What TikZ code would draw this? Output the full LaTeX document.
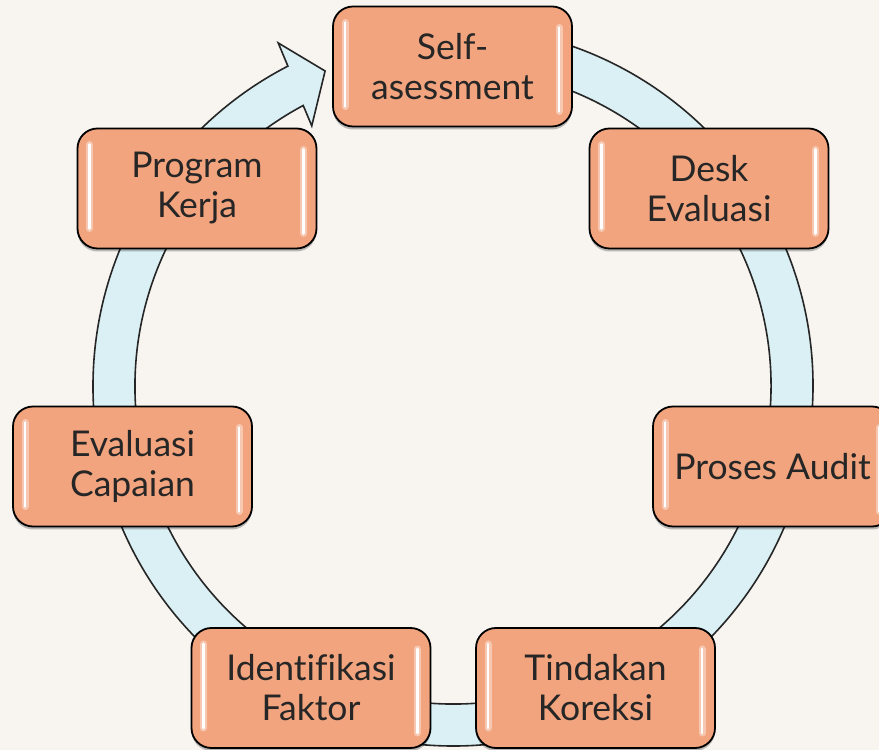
\documentclass[tikz,border=0pt]{standalone}
\usepackage{fontspec}
\setmainfont{Lato}[Ligatures=NoCommon]
\usetikzlibrary{calc,shadows}
\definecolor{bgc}{HTML}{F8F5F1}
\definecolor{ringc}{HTML}{DAF0F4}
\definecolor{boxc}{HTML}{F2A47E}
\definecolor{txtc}{HTML}{262626}
\begin{document}
\begin{tikzpicture}[x=1pt,y=1pt,
  stagebox/.style={draw=black, line width=1.8pt, fill=boxc, rounded corners=20pt,
    minimum width=239pt, minimum height=120pt, inner sep=0pt, outer sep=0pt,
    align=center, text=txtc, font=\fontsize{35.5}{40}\selectfont,
    drop shadow={shadow xshift=0pt, shadow yshift=-3pt, opacity=0.25, fill=black}},
  ringstyle/.style={draw=black!85, line width=1.6pt, fill=ringc, line join=miter},
  glow/.style={draw=white, line width=7pt, line cap=round, opacity=0.4},
  shine/.style={draw=white, line width=2.6pt, line cap=round}]
\fill[bgc] (0,0) rectangle (879,750);
\useasboundingbox (0,0) rectangle (879,750);
\clip (0,0) rectangle (879,750);
% circular arrow
\coordinate (c) at (453,364);
\draw[ringstyle, shift={(c)}] (85:360) arc[start angle=85, end angle=-242.7, radius=360]
  -- (-243:385) -- (-247.9:340) -- (-241.5:296) -- (-241.9:318)
  arc[start angle=-241.9, end angle=85, radius=318] -- cycle;
% stages
\node[stagebox] (self) at (452.5,683.5) {Self-\\asessment};
\node[stagebox] (desk) at (709,561.5) {Desk\\Evaluasi};
\node[stagebox] (audit) at (772.5,283.5) {Proses Audit};
\node[stagebox] (koreksi) at (595.5,62) {Tindakan\\Koreksi};
\node[stagebox] (faktor) at (311,62) {Identifikasi\\Faktor};
\node[stagebox] (capaian) at (132.5,283.5) {Evaluasi\\Capaian};
\node[stagebox] (kerja) at (197,561.5) {Program\\Kerja};
\foreach \n in {self,desk,audit,koreksi,faktor,capaian,kerja}{
  \draw[glow] ($(\n.north west)+(12,-16)$) -- ($(\n.south west)+(12,20)$);
  \draw[glow] ($(\n.north east)+(-13,-21)$) -- ($(\n.south east)+(-13,15)$);
  \draw[shine] ($(\n.north west)+(12,-16)$) -- ($(\n.south west)+(12,20)$);
  \draw[shine] ($(\n.north east)+(-13,-21)$) -- ($(\n.south east)+(-13,15)$);
}
\end{tikzpicture}
\end{document}
